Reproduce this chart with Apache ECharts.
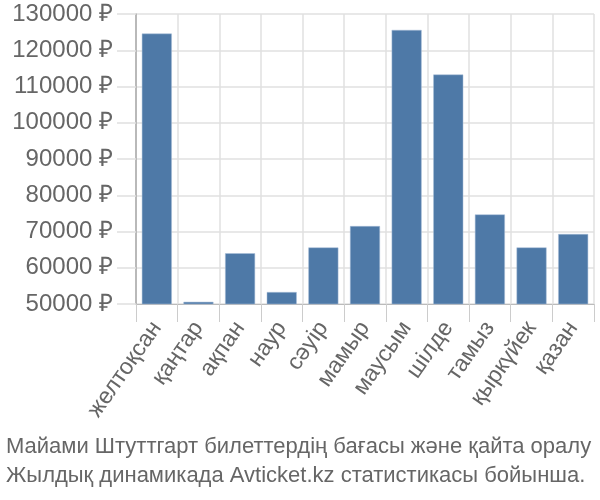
<!DOCTYPE html>
<html>
<head>
<meta charset="utf-8">
<script src="https://cdn.jsdelivr.net/npm/echarts@6/dist/echarts.min.js"></script>
<style>
  html, body { margin: 0; padding: 0; background: #fff; }
  #chart { width: 600px; height: 500px; }
</style>
</head>
<body>
<div id="chart"></div>
<script>
// месяцы
var months = ['желтоқсан', 'қаңтар', 'ақпан', 'наур', 'сәуір', 'мамыр', 'маусым', 'шілде', 'тамыз', 'қыркүйек', 'қазан'];
// бағасы, ₽
var prices = [124600, 50600, 64000, 53300, 65600, 71500, 125600, 113300, 74700, 65600, 69300];
var yTicks = { min: 50000, max: 130000, step: 10000 };
var titleLines = [
    'Майами Штуттгарт билеттердің бағасы және қайта оралу',
    'Жылдық динамикада Avticket.kz статистикасы бойынша.'
];

var myChart = echarts.init(document.getElementById('chart'));
var option = {
    animation: false,
    title: {
        text: titleLines.join('\n'),
        left: 1,
        bottom: 5,
        textStyle: {
            fontFamily: 'Liberation Sans',
            fontSize: 22,
            fontWeight: 'normal',
            color: '#666',
            lineHeight: 29
        }
    },
    grid: {
        left: 136,
        right: 6,
        top: 14,
        bottom: 196
    },
    xAxis: {
        type: 'category',
        data: months,
        axisLine: { lineStyle: { color: '#bbb', width: 1 } },
        axisTick: { show: true, length: 18, lineStyle: { color: '#ccc' } },
        splitLine: { show: true, lineStyle: { color: '#e0e0e0', width: 1.5 } },
        axisLabel: {
            rotate: 55,
            margin: 20,
            fontSize: 23,
            fontFamily: 'Liberation Sans',
            color: '#666'
        }
    },
    yAxis: {
        type: 'value',
        min: yTicks.min,
        max: yTicks.max,
        interval: yTicks.step,
        axisLine: { show: true, lineStyle: { color: '#aaa', width: 1.5 } },
        axisTick: { show: true, length: 19, lineStyle: { color: '#e0e0e0', width: 1.5 } },
        splitLine: { show: true, lineStyle: { color: '#e0e0e0', width: 1.5 } },
        axisLabel: {
            margin: 23,
            fontSize: 24,
            fontFamily: 'Liberation Sans',
            color: '#666',
            formatter: function (v) { return v + ' ₽'; }
        }
    },
    series: [{
        type: 'bar',
        data: prices,
        barCategoryGap: '28%',
        itemStyle: {
            color: '#4e79a7',
            borderColor: '#a9bfd8',
            borderWidth: 0.5
        }
    }]
};
myChart.setOption(option);
</script>
</body>
</html>
